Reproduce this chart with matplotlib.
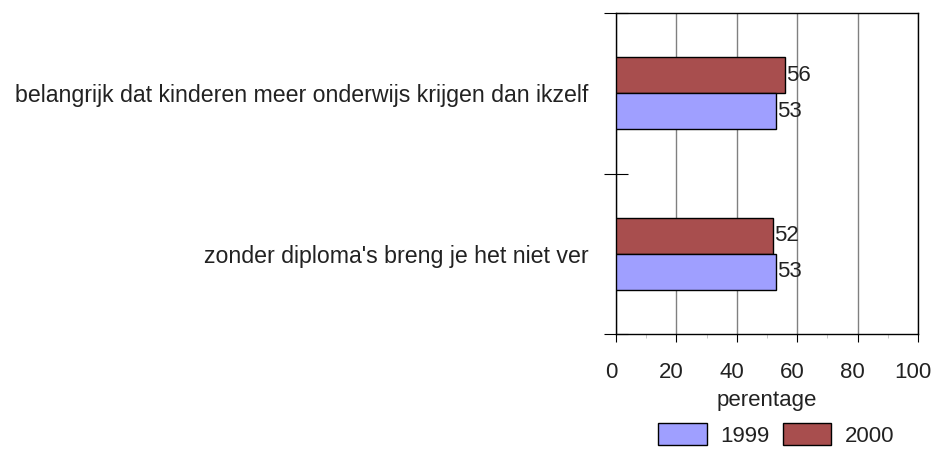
import numpy as np
import matplotlib.pyplot as plt
import matplotlib.transforms as mtransforms
from matplotlib.ticker import MultipleLocator, FixedLocator

categories = ["belangrijk dat kinderen meer onderwijs krijgen dan ikzelf",
              "zonder diploma's breng je het niet ver"]
years = ["1999", "2000"]
vals_1999 = [53, 53]
vals_2000 = [56, 52]
colors = {"1999": "#9F9FFF", "2000": "#A84E4E"}

plt.rcParams['font.family'] = ['Liberation Sans', 'DejaVu Sans']
fs = 16

fig = plt.figure(figsize=(9.34, 4.5), dpi=100)
ax = fig.add_axes([616/934, 1-334/450, 302/934, 321/450])

y = np.arange(len(categories))
h = 0.225
b00 = ax.barh(y - h/2, vals_2000, height=h, color=colors["2000"],
              edgecolor='black', linewidth=1, label="2000", zorder=3)
b99 = ax.barh(y + h/2, vals_1999, height=h, color=colors["1999"],
              edgecolor='black', linewidth=1, label="1999", zorder=3)
ax.bar_label(b00, padding=1, fontsize=fs, color='#222222')
ax.bar_label(b99, padding=1, fontsize=fs, color='#222222')

ax.set_xlim(0, 100)
ax.set_ylim(len(categories) - 0.5, -0.5)
ax.xaxis.set_major_locator(MultipleLocator(20))
ax.xaxis.set_minor_locator(MultipleLocator(10))
ax.grid(axis='x', which='major', color='#808080', linewidth=1, zorder=0)

# category boundaries as ticks, names as unticked minor labels
ax.yaxis.set_major_locator(FixedLocator([-0.5, 0.5, 1.5]))
ax.set_yticklabels([])
ax.yaxis.set_minor_locator(FixedLocator(y))
ax.set_yticklabels(categories, minor=True, fontsize=16.7, color='#222222')
ax.tick_params(axis='y', which='major', direction='inout', length=17, width=0.8)
ax.tick_params(axis='y', which='minor', length=0, pad=20)
ax.tick_params(axis='x', which='major', direction='out', length=6, width=0.8,
               labelsize=fs, pad=14, labelcolor='#222222')
ax.tick_params(axis='x', which='minor', direction='out', length=3, width=0.5,
               color='#b0b0b0')

# the x labels sit a few pixels left of their ticks
shift = mtransforms.ScaledTranslation(-5/100, 0, fig.dpi_scale_trans)
for lab in ax.get_xticklabels():
    lab.set_transform(lab.get_transform() + shift)

for s in ax.spines.values():
    s.set_color('black')
    s.set_linewidth(1)

ax.set_xlabel("perentage", fontsize=fs, labelpad=5, color='#222222')

handles = [b99, b00]
fig.legend(handles, years, loc='upper center', bbox_to_anchor=(776/934, 1-423/450),
           ncol=2, frameon=False, fontsize=fs, handlelength=2.2, handleheight=1.17,
           handletextpad=0.6, columnspacing=0.6, borderpad=0, borderaxespad=0,
           labelcolor='#222222')

fig.savefig("out.png", dpi=100)
